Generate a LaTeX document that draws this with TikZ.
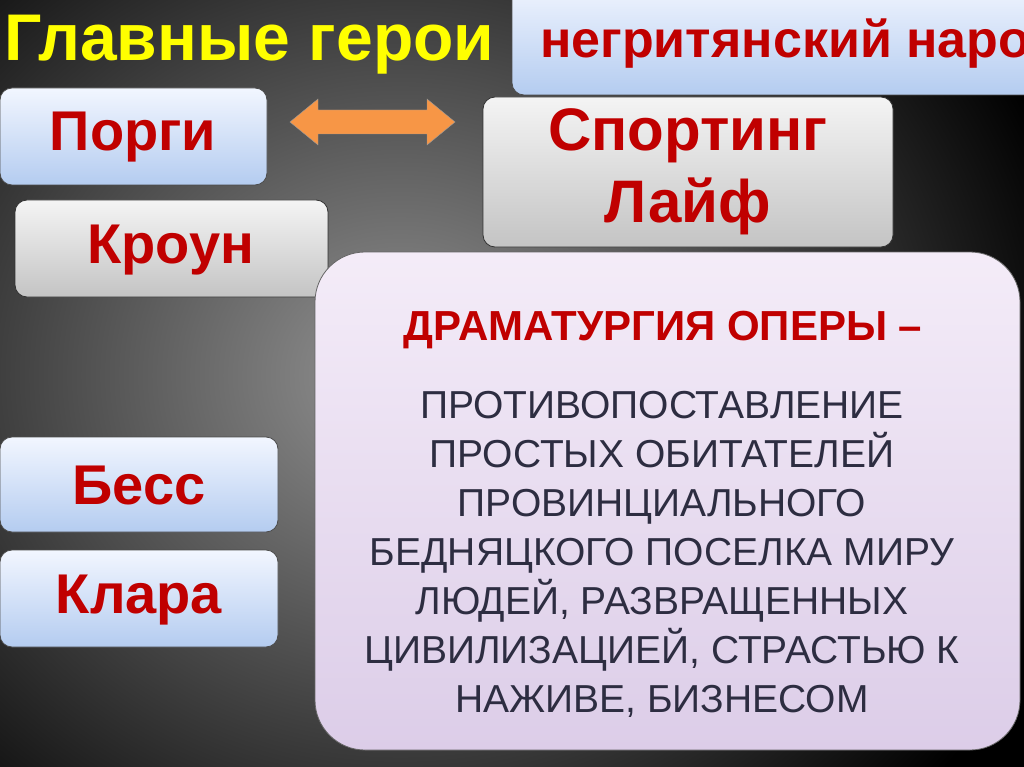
\documentclass[tikz,border=0pt]{standalone}
\usepackage{fontspec}
\setmainfont{Liberation Sans}
\definecolor{dred}{HTML}{C00000}
\definecolor{btop}{HTML}{F2F6FF}
\definecolor{bbot}{HTML}{B4CCF0}
\definecolor{gtop}{HTML}{F4F4F4}
\definecolor{gbot}{HTML}{C4C4C4}
\definecolor{ptop}{HTML}{F4ECF8}
\definecolor{pbot}{HTML}{DCCDE8}
\begin{document}
\begin{tikzpicture}[x=1pt,y=-1pt,
 bluebox/.style={draw=black!70,line width=0.8pt,rounded corners=12pt,top color=btop,bottom color=bbot},
 graybox/.style={draw=black!80,line width=0.8pt,rounded corners=12pt,top color=gtop,bottom color=gbot},
 lab/.style={text=dred,font=\bfseries\fontsize{56}{62}\selectfont,align=center}]
\useasboundingbox (0,0) rectangle (1024,767);
\clip (0,0) rectangle (1024,767);
\shade[inner color=black!42,outer color=black] (-300,-250) rectangle (1100,1000);
\node[anchor=west,inner sep=0pt,text={rgb,255:red,255;green,255;blue,0},font=\bfseries\fontsize{66}{70}\selectfont] (title) at (4,45) {Главные герои};
\path[bluebox] (512,-20) rectangle (1060,95);
\node[lab,font=\bfseries\fontsize{52}{56}\selectfont,anchor=west,inner sep=0pt] (neg) at (540,44) {негритянский народ};
\path[bluebox] (0,88) rectangle (267,185);
\node[lab] (porgi) at (133,137) {Порги};
\path[draw=black!40,fill={rgb,255:red,247;green,150;blue,70}] (290,122) -- (318,99) -- (318,110) -- (427,110) -- (427,99) -- (455,122) -- (427,145) -- (427,134) -- (318,134) -- (318,145) -- cycle;
\coordinate (arr) at (372,122);
\path[graybox] (483,97) rectangle (893,247);
\node[lab,font=\bfseries\fontsize{60}{72}\selectfont] (sl) at (688,172) {Спортинг\\Лайф};
\path[graybox] (15,200) rectangle (328,297);
\node[lab] (kroun) at (171,250) {Кроун};
\path[draw=black!60,line width=0.8pt,rounded corners=50pt,top color=ptop,bottom color=pbot] (315,252) rectangle (1020,750);
\node[text=dred,font=\bfseries\fontsize{42}{48}\selectfont] (dram) at (663,330) {ДРАМАТУРГИЯ ОПЕРЫ –};
\node[text={rgb,255:red,45;green,45;blue,65},font=\fontsize{39}{49}\selectfont,align=center] (body) at (662,554) {ПРОТИВОПОСТАВЛЕНИЕ\\ПРОСТЫХ ОБИТАТЕЛЕЙ\\ПРОВИНЦИАЛЬНОГО\\БЕДНЯЦКОГО ПОСЕЛКА МИРУ\\ЛЮДЕЙ, РАЗВРАЩЕННЫХ\\ЦИВИЛИЗАЦИЕЙ, СТРАСТЬЮ К\\НАЖИВЕ, БИЗНЕСОМ};
\path[bluebox] (0,437) rectangle (278,532);
\node[lab] (bess) at (139,486) {Бесс};
\path[bluebox] (0,550) rectangle (278,647);
\node[lab] (klara) at (139,600) {Клара};
\end{tikzpicture}
\end{document}
